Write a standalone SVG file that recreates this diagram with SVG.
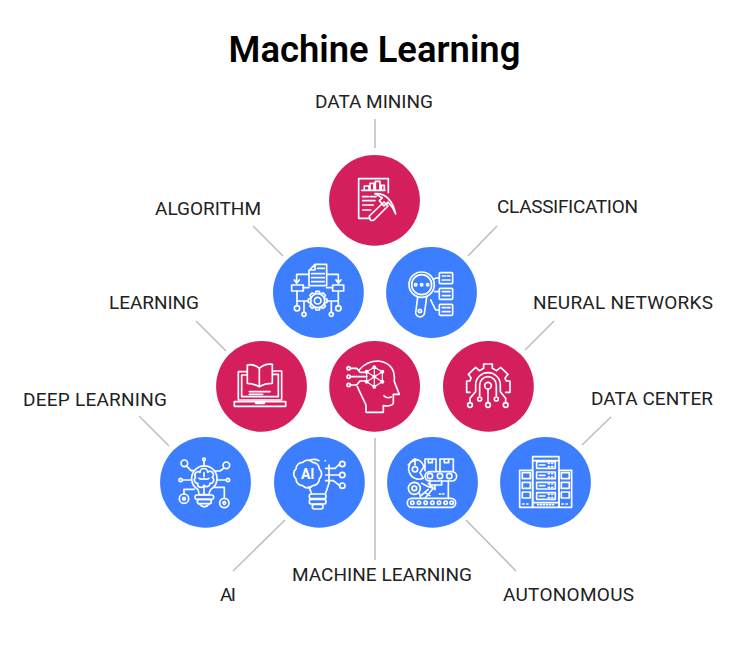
<svg xmlns="http://www.w3.org/2000/svg" width="750" height="648" viewBox="0 0 750 648">
<style>
.bg{fill:#fff}
.red{fill:#d41f5c}
.blue{fill:#3d7eff}
.title{font:600 36.4px Roboto,"Liberation Sans",sans-serif;fill:#000;text-anchor:middle}
.lb{font:400 19px Roboto,"Liberation Sans",sans-serif;fill:#222}
.ln{stroke:#bdbdbd;stroke-width:1.5;fill:none}
.ic{fill:none;stroke:#fff;stroke-width:5;stroke-linecap:round;stroke-linejoin:round}
.ai{font:700 14px Roboto,"Liberation Sans",sans-serif;fill:#fff;text-anchor:middle}
</style>
<defs>
<path id="tooth" d="M-7,-21 L-5,-28 H5 L7,-21"/>
</defs>
<rect class="bg" width="750" height="648"/>
<text class="title" x="374.5" y="62">Machine Learning</text>
<g id="connectors">
<path class="ln" d="M375,119V148"/>
<path class="ln" d="M253,226L283,256"/>
<path class="ln" d="M497,226L468,256"/>
<path class="ln" d="M196,321L226,351"/>
<path class="ln" d="M554,321L525,350"/>
<path class="ln" d="M139,416L169,446"/>
<path class="ln" d="M611,417L582,445"/>
<path class="ln" d="M285,520L233,571"/>
<path class="ln" d="M375,438V560"/>
<path class="ln" d="M466,520L516,571"/>
</g>
<g id="data-mining">
<circle class="red" cx="374.5" cy="200.3" r="45.4"/>
<text class="lb" x="315" y="108" textLength="118">DATA MINING</text>
<g class="ic" transform="translate(320 150) scale(.3333)">
<path d="M150,205H116V86H205V128"/>
<path d="M125,121H195M133,120V108H147V120M150,120V100H162V120M166,120V94H180V120M184,120V106H193V120"/>
<path d="M128,140H145M150,140H168M128,152H165M128,165H160M128,180H152"/>
<path d="M148,198L192,156L204,168L162,210Q148,216 148,198Z"/>
<path d="M165,131Q212,128 227,192Q218,170 204,156L192,168L178,152L187,144Q176,136 165,131Z"/>
</g>
</g>
<g id="algorithm">
<circle class="blue" cx="318.4" cy="292.5" r="45.4"/>
<text class="lb" x="155" y="214.500" textLength="106">ALGORITHM</text>
<g class="ic" transform="translate(265 240) scale(.3333)">
<path d="M150,73H185V137H132V92ZM150,73V90H132"/>
<path d="M140,101H178M140,113H178M140,125H178M157,85H178"/>
<path d="M132,103H95V128M88,120L95,130L103,120M185,103H220V128M213,120L220,130L228,120"/>
<rect x="80" y="135" width="35" height="18"/>
<rect x="203" y="135" width="33" height="18"/>
<path d="M115,143H132M185,143H203"/>
<g transform="translate(158 182)"><circle r="21"/><circle r="10"/><use href="#tooth"/><use href="#tooth" transform="rotate(45)"/><use href="#tooth" transform="rotate(90)"/><use href="#tooth" transform="rotate(135)"/><use href="#tooth" transform="rotate(180)"/><use href="#tooth" transform="rotate(225)"/><use href="#tooth" transform="rotate(270)"/><use href="#tooth" transform="rotate(315)"/></g>
<path d="M96,153V197M96,183H130M117,183V216M220,153V197M220,183H186M199,183V216"/>
<circle cx="96" cy="205" r="8"/><circle cx="117" cy="223" r="6"/><circle cx="220" cy="205" r="8"/><circle cx="199" cy="223" r="6"/>
</g>
</g>
<g id="classification">
<circle class="blue" cx="431.5" cy="292.5" r="45.4"/>
<text class="lb" x="497" y="213" textLength="141">CLASSIFICATION</text>
<g class="ic" transform="translate(265 240) scale(.3333)">
<circle cx="470" cy="134" r="38"/><circle cx="470" cy="134" r="30"/>
<circle cx="452" cy="134" r="3.500"/><circle cx="470" cy="134" r="3.500"/><circle cx="488" cy="134" r="3.500"/>
<path d="M458,172L453,212A13,13 0 0 0 478,222L485,172"/>
<circle cx="465" cy="213" r="5"/>
<rect x="523" y="98" width="40" height="33" rx="3"/><rect x="523" y="145" width="40" height="33" rx="3"/><rect x="523" y="193" width="40" height="33" rx="3"/>
<path d="M532,108H542M547,108H555M532,120H555M532,155H555M532,167H555M532,203H542M547,203H555M532,215H555"/>
<path d="M505,118Q512,113 523,114M509,155H523M497,180L512,210H523"/>
</g>
</g>
<g id="learning">
<circle class="red" cx="261.5" cy="386.4" r="45.4"/>
<text class="lb" x="109" y="309" textLength="90">LEARNING</text>
<g class="ic" transform="translate(210 335) scale(.3333)">
<path d="M73,200H227V214H73ZM137,200V205H163V200"/>
<path d="M85,195V110H110M95,185V120H110M85,195H215M215,195V108H188M205,185V118H188M95,185H205"/>
<path d="M148,100Q130,85 112,90V145Q130,145 148,155Q165,145 187,145V88Q165,85 148,100V155"/>
<path d="M118,170H180M118,178H158"/>
</g>
</g>
<g id="machine-learning">
<circle class="red" cx="374.6" cy="386.4" r="45.4"/>
<text class="lb" x="292" y="581" textLength="180">MACHINE LEARNING</text>
<g class="ic" transform="translate(210 335) scale(.3333)">
<path d="M447,105Q470,78 505,78Q558,85 553,140L568,178H550V205Q545,215 520,212V232H468V210L442,155"/>
<path d="M522,182Q530,192 544,186"/>
<path d="M493,97L517,110V140L493,155L470,140V110ZM493,97V155M470,110L517,140M517,110L470,140" stroke-width="3.500"/>
<g fill="#fff" stroke="none"><circle cx="493" cy="97" r="6"/><circle cx="517" cy="110" r="6"/><circle cx="517" cy="140" r="6"/><circle cx="493" cy="155" r="6"/><circle cx="470" cy="140" r="6"/><circle cx="470" cy="110" r="6"/><circle cx="493" cy="125" r="6"/></g>
<circle cx="416" cy="100" r="5"/><circle cx="416" cy="125" r="5"/><circle cx="416" cy="150" r="5"/>
<path d="M421,100H440L450,112H470M421,125H470M421,150H440L450,138H470"/>
</g>
</g>
<g id="neural-networks">
<circle class="red" cx="488.4" cy="386.4" r="45.4"/>
<text class="lb" x="533" y="309" textLength="180">NEURAL NETWORKS</text>
<g class="ic" transform="translate(435 335) scale(.3333)">
<path d="M105,172H95V138H105L108,128L100,118L122,97L133,107L146,100V87H172V100L185,107L197,97L219,118L210,130L214,138H225V172H212"/>
<circle cx="159" cy="152" r="10"/>
<path d="M159,162V203M134,182V150A25,25 0 0 1 184,150V182M122,170V150A37,37 0 0 1 196,150V170L212,190V203M122,170L105,190V203"/>
<circle cx="134" cy="192" r="6"/><circle cx="184" cy="192" r="6"/><circle cx="159" cy="210" r="7"/><circle cx="105" cy="210" r="7"/><circle cx="212" cy="210" r="7"/>
</g>
</g>
<g id="deep-learning">
<circle class="blue" cx="205.5" cy="482.4" r="45.4"/>
<text class="lb" x="23" y="406" textLength="144">DEEP LEARNING</text>
<g class="ic" transform="translate(155 430) scale(.3333)">
<path d="M128,178A38,38 0 1 1 168,178Q162,184 162,194H132Q132,184 128,178Z"/>
<rect x="120" y="195" width="56" height="13" rx="6"/><rect x="127" y="208" width="42" height="13" rx="6"/><path d="M133,221Q148,240 163,221"/>
<path d="M135,127A10,10 0 0 1 158,127A10,10 0 0 1 172,142A10,10 0 0 1 165,160A10,10 0 0 1 147,166A10,10 0 0 1 128,160A10,10 0 0 1 122,142A10,10 0 0 1 135,127ZM147,166V195M147,128V140M132,145Q140,150 147,146Q155,150 162,145"/>
<circle cx="88" cy="100" r="10"/><circle cx="214" cy="106" r="10"/><circle cx="147" cy="88" r="4"/><circle cx="77" cy="150" r="5"/><circle cx="219" cy="150" r="5"/>
<circle cx="87" cy="206" r="14"/><circle cx="87" cy="206" r="4"/><circle cx="208" cy="219" r="14"/><circle cx="208" cy="219" r="4"/>
<path d="M95,108L108,122H116M206,115L195,123H178M147,92V107M82,150H108M214,150H186M87,192V178H118M208,205V172H176"/>
</g>
</g>
<g id="ai">
<circle class="blue" cx="319.4" cy="482.4" r="45.4"/>
<text class="lb" x="220" y="601" textLength="16">AI</text>
<g class="ic" transform="translate(155 430) scale(.3333)">
<path d="M443,97A20,20 0 0 1 473,97A20,20 0 0 1 493,117A20,20 0 0 1 493,147A20,20 0 0 1 473,167A20,20 0 0 1 443,167A20,20 0 0 1 423,147A20,20 0 0 1 423,117A20,20 0 0 1 443,97Z"/>
<path d="M464,90Q480,85 492,92M511,92V92M522,105V160L512,190M462,170L470,192"/>
<rect x="463" y="192" width="50" height="14" rx="6"/><rect x="463" y="208" width="50" height="14" rx="6"/><rect x="472" y="223" width="32" height="14" rx="6"/>
<circle cx="562" cy="102" r="8"/><circle cx="562" cy="135" r="8"/><circle cx="562" cy="167" r="8"/>
<path d="M512,115H540L554,102M512,135H553M512,152H535L554,167"/>
</g>
<text class="ai" x="307.700" y="479">AI</text>
</g>
<g id="autonomous">
<circle class="blue" cx="432.5" cy="482.4" r="45.4"/>
<text class="lb" x="503" y="601" textLength="131">AUTONOMOUS</text>
<g class="ic" transform="translate(380 430) scale(.3333)">
<rect x="82" y="205" width="145" height="27" rx="13"/>
<circle cx="97" cy="218" r="5"/><circle cx="117" cy="218" r="5"/><circle cx="137" cy="218" r="5"/><circle cx="157" cy="218" r="5"/><circle cx="177" cy="218" r="5"/><circle cx="197" cy="218" r="5"/><circle cx="215" cy="218" r="5"/>
<rect x="135" y="125" width="95" height="28" rx="14"/>
<circle cx="150" cy="138" r="8"/><circle cx="180" cy="138" r="8"/><circle cx="208" cy="138" r="8"/>
<path d="M135,122V87H168V122M180,122V87H220V122M145,87V98H157V87M193,87V98H206V87"/>
<path d="M205,153V205M150,153V165H185V153M165,165V178"/>
<path d="M130,145A27,27 0 1 1 105,87Q125,90 132,110L120,128L130,145"/>
<circle cx="105" cy="118" r="8"/><path d="M85,105Q95,90 115,90M105,87V105"/>
<circle cx="103" cy="175" r="18"/><circle cx="103" cy="175" r="7"/>
<path d="M118,190L122,203M125,160L145,170L160,175L135,205M145,160L165,178M125,195L145,178M135,188L150,197"/>
<path d="M178,192H182M188,192H192"/>
</g>
</g>
<g id="data-center">
<circle class="blue" cx="545.5" cy="482.4" r="45.4"/>
<text class="lb" x="591" y="405" textLength="122">DATA CENTER</text>
<g class="ic" transform="translate(380 430) scale(.3333)">
<rect x="458" y="80" width="79" height="152"/>
<rect x="419" y="121" width="39" height="111"/>
<rect x="537" y="121" width="38" height="111"/>
<path d="M458,92H537M458,218H537"/>
<rect x="470" y="95" width="56" height="20"/><rect x="470" y="126" width="56" height="20"/><rect x="470" y="157" width="56" height="20"/><rect x="470" y="188" width="56" height="20"/>
<path d="M478,105H495M505,100H508M515,100H518M505,110H508M515,110H518M478,136H495M505,131H508M515,131H518M505,141H508M515,141H518M478,167H495M505,162H508M515,162H518M505,172H508M515,172H518M478,198H495M505,193H508M515,193H518M505,203H508M515,203H518"/>
<path d="M473,224H522" stroke-dasharray="3 6"/>
<rect x="427" y="128" width="24" height="18"/><rect x="427" y="157" width="24" height="18"/><rect x="427" y="186" width="24" height="18"/>
<rect x="544" y="128" width="24" height="18"/><rect x="544" y="157" width="24" height="18"/><rect x="544" y="186" width="24" height="18"/>
<path d="M428,222H432M440,222H444M546,222H550M558,222H562"/>
</g>
</g>
</svg>
